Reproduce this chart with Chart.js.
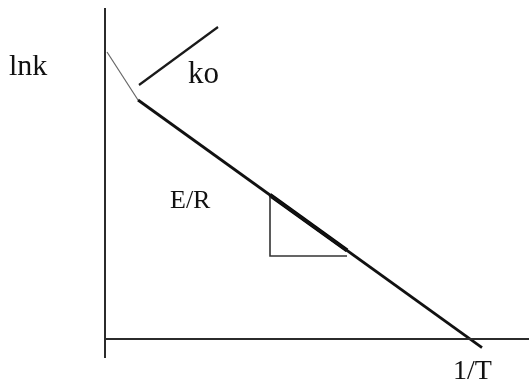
<!DOCTYPE html>
<html>
<head>
<meta charset="utf-8">
<title>lnk vs 1/T</title>
<script src="https://cdn.jsdelivr.net/npm/chart.js@4"></script>
<style>
  html, body { margin: 0; padding: 0; background: #fff; }
  canvas { display: block; }
</style>
</head>
<body>
<canvas id="arrhenius" width="529" height="381"></canvas>
<script>
// Arrhenius plot, arbitrary units: x = 1/T, y = ln k
const axisYx = [0, 0];
const axisYy = [-1.9, 33.1];
const axisXx = [0, 42.4];
const axisXy = [0, 0];

// steep part near the y axis
const highTx = [0.2, 3.3];
const highTy = [28.7, 23.9];

// main straight line, slope -E/R
const lineX = [3.3, 37.7];
const lineY = [23.9, -0.87];

// pointer to the intercept (ko)
const koX = [3.4, 11.3];
const koY = [25.4, 31.2];

// slope triangle and the thick piece of line above it
const triX = [16.5, 16.5, 24.2];
const triY = [14.4, 8.3, 8.3];
const slopeX = [16.5, 24.2];
const slopeY = [14.4, 8.86];

const labelText = ["lnk", "ko", "E/R", "1/T"];
const labelX = [-9.6, 8.3, 6.5, 34.8];
const labelY = [26.4, 25.6, 13.1, -4.0];
const labelSize = [30, 31, 26, 28];

function pts(xs, ys) {
    return xs.map((x, i) => ({ x: x, y: ys[i] }));
}

function seg(xs, ys, color, width) {
    return {
        data: pts(xs, ys),
        showLine: true,
        borderColor: color,
        borderWidth: width,
        pointRadius: 0,
        fill: false,
        tension: 0
    };
}

const textLabels = {
    id: "textLabels",
    afterDatasetsDraw(chart) {
        const ctx = chart.ctx;
        const xs = chart.scales.x;
        const ys = chart.scales.y;
        ctx.save();
        ctx.fillStyle = "#111";
        ctx.textAlign = "left";
        ctx.textBaseline = "alphabetic";
        labelText.forEach((t, i) => {
            ctx.font = labelSize[i] + "px 'Liberation Serif', 'Times New Roman', serif";
            ctx.fillText(t, xs.getPixelForValue(labelX[i]), ys.getPixelForValue(labelY[i]));
        });
        ctx.restore();
    }
};

new Chart(document.getElementById("arrhenius"), {
    type: "scatter",
    data: {
        datasets: [
            seg(axisYx, axisYy, "#2b2b2b", 2),
            seg(axisXx, axisXy, "#2b2b2b", 2),
            seg(highTx, highTy, "#666", 1.2),
            seg(lineX, lineY, "#111", 2.8),
            seg(koX, koY, "#1a1a1a", 2.2),
            seg(triX, triY, "#333", 1.6),
            seg(slopeX, slopeY, "#000", 4.2)
        ]
    },
    options: {
        responsive: false,
        animation: false,
        layout: { padding: 0 },
        plugins: {
            legend: { display: false },
            tooltip: { enabled: false }
        },
        scales: {
            x: { type: "linear", min: -10.5, max: 42.4, display: false },
            y: { type: "linear", min: -4.2, max: 33.9, display: false }
        }
    },
    plugins: [textLabels]
});
</script>
</body>
</html>
